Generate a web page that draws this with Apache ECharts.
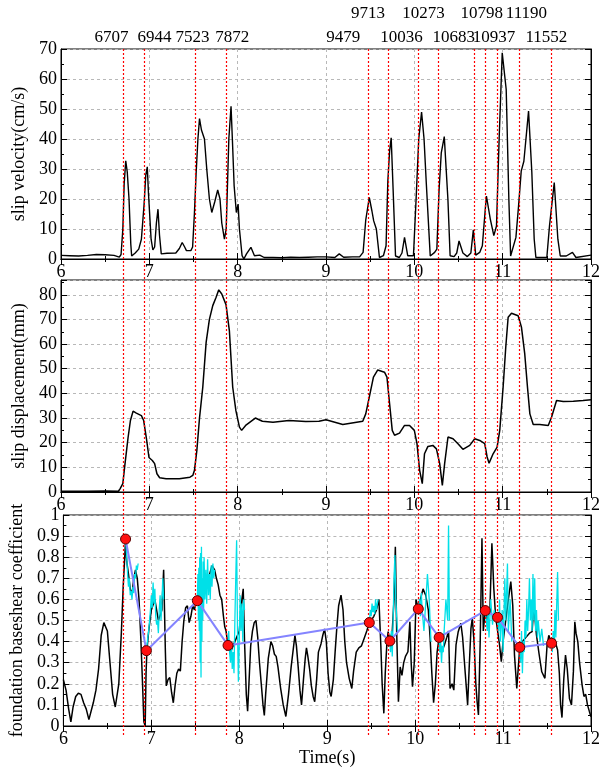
<!DOCTYPE html>
<html>
<head>
<meta charset="utf-8">
<script src="https://cdn.jsdelivr.net/npm/echarts@6/dist/echarts.min.js"></script>
<style>
  html, body { margin: 0; padding: 0; background: #fff; }
  #chart { width: 604px; height: 769px; }
</style>
</head>
<body>
<div id="chart"></div>
<script>
// Frame numbers of the sliding events (time in s = frame / 1000)
const eventFrames = [6707, 6944, 7523, 7872, 9479, 9713, 10036, 10273, 10683, 10798, 10937, 11190, 11552];

// Slip velocity (cm/s) vs time (s)
const slipVelocity = [
  [6.00,1.2],[6.10,1.1],[6.20,1.0],[6.30,1.2],[6.40,1.5],[6.50,1.4],[6.60,1.2],[6.66,0.6],[6.68,1.5],
  [6.70,10],[6.715,25],[6.733,32.7],[6.75,29],[6.77,20],[6.79,5],[6.80,1.0],[6.84,2.0],[6.88,3.3],
  [6.91,6.6],[6.94,18],[6.96,28],[6.977,30.7],[6.99,22],[7.02,6.6],[7.04,3],[7.06,4],[7.08,12],
  [7.098,16.6],[7.115,8],[7.135,1.7],[7.20,1.9],[7.30,2.0],[7.34,3.5],[7.372,5.5],[7.40,4],[7.42,2.8],
  [7.47,2.8],[7.49,4],[7.51,15],[7.53,28.8],[7.55,40],[7.568,46.8],[7.59,43],[7.624,40],[7.65,30],
  [7.68,20],[7.707,15.5],[7.74,19],[7.774,23],[7.80,20],[7.82,12],[7.85,6.6],[7.87,10],[7.90,40],
  [7.925,50.9],[7.94,40],[7.96,24.4],[7.985,15.5],[8.005,18.3],[8.02,10],[8.05,1.1],[8.07,0],[8.10,1.7],
  [8.15,3.9],[8.19,1.1],[8.25,1.3],[8.30,0.5],[8.40,0.5],[8.50,0.4],[8.60,0.6],[8.70,0.5],[8.80,0.6],
  [8.90,0.7],[9.00,0.7],[9.10,0.5],[9.15,1.7],[9.20,0.6],[9.30,0.7],[9.38,0.7],[9.42,2.2],[9.45,13],
  [9.49,20.5],[9.52,16],[9.54,12.7],[9.57,10],[9.605,0.5],[9.65,1.1],[9.68,4.4],[9.70,26],[9.72,36],
  [9.738,40.4],[9.76,23],[9.787,1],[9.83,0.5],[9.86,2],[9.889,7.2],[9.925,1.1],[9.99,1.1],[10.02,20],
  [10.05,40],[10.082,49],[10.11,40],[10.135,25.5],[10.18,1.0],[10.23,2.2],[10.255,3.3],[10.28,23],
  [10.305,35.4],[10.339,40.8],[10.38,20],[10.405,1.1],[10.45,0.8],[10.48,2],[10.506,6],[10.55,2],
  [10.60,0.8],[10.64,2],[10.668,9.7],[10.695,1.3],[10.74,2.2],[10.77,4.4],[10.80,15.5],[10.816,21],
  [10.86,13.3],[10.90,7.8],[10.93,11],[10.96,40],[10.995,68.7],[11.013,69.2],[11.04,56.5],[11.07,20],
  [11.09,1.0],[11.15,7.2],[11.18,17.7],[11.21,29.3],[11.24,32.6],[11.293,49.3],[11.33,29],[11.357,6.6],
  [11.376,0.5],[11.50,0.5],[11.53,11],[11.584,25.5],[11.625,6.6],[11.652,1.0],[11.72,1.0],[11.79,2.2],
  [11.83,0.5],[12.00,1.3]
];

// Slip displacement (mm) vs time (s)
const slipDisplacement = [
  [6.00,0.3],[6.30,0.3],[6.50,0.4],[6.65,0.3],[6.668,1.3],[6.70,3.4],[6.72,10],[6.759,22],[6.786,29],
  [6.816,32.8],[6.853,32],[6.91,31],[6.936,29],[6.966,22],[6.996,14],[7.034,12.8],[7.06,11.5],
  [7.086,7.4],[7.117,5.8],[7.19,5.4],[7.34,5.4],[7.46,6],[7.492,6.7],[7.511,8.8],[7.538,16.9],
  [7.568,30],[7.605,42.5],[7.643,60.7],[7.68,70],[7.718,75.6],[7.756,79],[7.786,82],[7.82,80.3],
  [7.868,76],[7.906,65.5],[7.944,42.5],[7.98,33],[8.02,26.3],[8.045,25],[8.09,27],[8.20,30],
  [8.28,28.7],[8.40,28.3],[8.58,29],[8.77,28.6],[8.92,28.7],[9.00,29.3],[9.19,27.4],[9.416,28.7],
  [9.45,31.7],[9.49,38.5],[9.537,46.6],[9.586,49.5],[9.662,48.6],[9.69,46.6],[9.72,35.8],[9.75,25],
  [9.776,23],[9.832,23.9],[9.889,27],[9.946,27],[10.00,25],[10.03,19.6],[10.06,8.8],[10.09,3.4],
  [10.115,15.5],[10.154,18.5],[10.21,18.9],[10.25,17.5],[10.287,11.5],[10.317,2.7],[10.343,11.5],
  [10.381,22.3],[10.438,21.6],[10.494,19.6],[10.55,17.3],[10.627,18.9],[10.684,21.6],[10.74,20.9],
  [10.797,19.6],[10.824,14.2],[10.846,11.7],[10.892,15.5],[10.937,18.2],[10.967,25],[11.005,42.5],
  [11.035,58.7],[11.062,70.9],[11.10,72.5],[11.175,71.5],[11.213,66.8],[11.25,56],[11.281,42.5],
  [11.308,31.7],[11.346,27.4],[11.42,27.4],[11.516,27],[11.554,30.4],[11.61,37.1],[11.686,36.7],
  [11.80,36.8],[11.91,37.1],[12.00,37.4]
];

// Foundation base-shear coefficient vs time (s)
const baseShearCoef = [
  [6.00,0.22],[6.03,0.17],[6.06,0.08],[6.085,0.02],[6.11,0.09],[6.14,0.14],[6.17,0.155],[6.20,0.15],
  [6.23,0.11],[6.26,0.08],[6.29,0.03],[6.31,0.025],[6.34,0.11],[6.37,0.17],[6.40,0.27],[6.43,0.43],
  [6.46,0.49],[6.48,0.495],[6.50,0.45],[6.53,0.30],[6.56,0.15],[6.59,0.09],[6.61,0.085],[6.63,0.20],
  [6.66,0.45],[6.68,0.66],[6.70,0.82],[6.707,0.886],[6.72,0.78],[6.74,0.72],[6.76,0.65],[6.78,0.62],
  [6.80,0.70],[6.82,0.74],[6.84,0.70],[6.86,0.60],[6.88,0.42],[6.90,0.20],[6.915,0.02],[6.93,0.0],
  [6.94,0.25],[6.95,0.36],[6.97,0.45],[7.00,0.55],[7.04,0.60],[7.08,0.50],[7.12,0.55],[7.14,0.74],
  [7.16,0.35],[7.17,0.19],[7.19,0.22],[7.21,0.23],[7.23,0.16],[7.25,0.11],[7.27,0.19],[7.29,0.25],
  [7.31,0.27],[7.33,0.26],[7.35,0.40],[7.37,0.50],[7.39,0.56],[7.41,0.57],[7.43,0.49],[7.45,0.52],
  [7.47,0.57],[7.49,0.55],[7.51,0.59],[7.523,0.594],[7.55,0.60],[7.60,0.65],[7.65,0.70],[7.69,0.76],
  [7.72,0.74],[7.74,0.70],[7.76,0.67],[7.78,0.62],[7.80,0.60],[7.82,0.52],[7.835,0.47],[7.85,0.45],
  [7.872,0.38],[7.90,0.35],[7.95,0.40],[8.00,0.45],[8.03,0.60],[8.045,0.65],[8.06,0.40],[8.08,0.15],
  [8.095,0.07],[8.11,0.20],[8.13,0.38],[8.15,0.45],[8.17,0.49],[8.19,0.50],[8.21,0.42],[8.23,0.30],
  [8.25,0.20],[8.27,0.10],[8.285,0.05],[8.30,0.15],[8.33,0.32],[8.36,0.40],[8.38,0.38],[8.40,0.34],
  [8.42,0.33],[8.44,0.28],[8.47,0.18],[8.50,0.10],[8.53,0.045],[8.56,0.15],[8.59,0.28],[8.61,0.35],
  [8.633,0.43],[8.65,0.38],[8.67,0.28],[8.69,0.17],[8.708,0.10],[8.73,0.22],[8.75,0.32],[8.764,0.37],
  [8.78,0.33],[8.80,0.27],[8.82,0.19],[8.84,0.14],[8.858,0.115],[8.88,0.22],[8.90,0.35],[8.93,0.39],
  [8.95,0.43],[8.97,0.46],[8.99,0.40],[9.01,0.25],[9.03,0.16],[9.045,0.14],[9.07,0.22],[9.09,0.35],
  [9.11,0.47],[9.13,0.57],[9.157,0.62],[9.18,0.55],[9.20,0.40],[9.22,0.30],[9.25,0.226],[9.28,0.178],
  [9.30,0.26],[9.33,0.35],[9.36,0.37],[9.39,0.38],[9.42,0.415],[9.45,0.45],[9.479,0.49],[9.50,0.50],
  [9.53,0.52],[9.56,0.55],[9.588,0.60],[9.61,0.38],[9.625,0.20],[9.644,0.06],[9.66,0.25],[9.68,0.40],
  [9.693,0.447],[9.713,0.403],[9.74,0.45],[9.76,0.60],[9.775,0.85],[9.79,0.45],[9.81,0.115],
  [9.83,0.28],[9.85,0.24],[9.87,0.30],[9.89,0.33],[9.918,0.352],[9.94,0.494],[9.955,0.30],[9.97,0.186],
  [9.99,0.30],[10.01,0.60],[10.036,0.555],[10.06,0.60],[10.09,0.65],[10.12,0.62],[10.15,0.55],
  [10.17,0.42],[10.19,0.25],[10.21,0.11],[10.23,0.20],[10.25,0.35],[10.273,0.42],[10.30,0.35],
  [10.33,0.38],[10.36,0.42],[10.38,0.45],[10.397,0.178],[10.42,0.20],[10.44,0.17],[10.465,0.384],
  [10.49,0.447],[10.52,0.487],[10.54,0.42],[10.57,0.25],[10.597,0.10],[10.615,0.28],[10.635,0.463],
  [10.65,0.51],[10.67,0.40],[10.69,0.20],[10.705,0.115],[10.72,0.052],[10.74,0.40],[10.76,0.89],
  [10.775,0.45],[10.798,0.547],[10.82,0.50],[10.85,0.55],[10.873,0.866],[10.895,0.65],[10.915,0.52],
  [10.937,0.515],[10.96,0.384],[10.98,0.305],[11.00,0.40],[11.03,0.50],[11.06,0.60],[11.088,0.684],
  [11.11,0.573],[11.13,0.336],[11.156,0.178],[11.19,0.373],[11.22,0.40],[11.26,0.42],[11.30,0.44],
  [11.33,0.447],[11.35,0.573],[11.38,0.43],[11.41,0.34],[11.44,0.257],[11.476,0.226],[11.50,0.38],
  [11.52,0.43],[11.552,0.392],[11.58,0.42],[11.62,0.36],[11.64,0.25],[11.654,0.10],[11.67,0.04],
  [11.69,0.22],[11.71,0.336],[11.73,0.27],[11.755,0.13],[11.778,0.10],[11.80,0.26],[11.816,0.494],
  [11.83,0.44],[11.85,0.40],[11.87,0.30],[11.899,0.194],[11.92,0.14],[11.94,0.15],[11.96,0.10],
  [11.982,0.068],[12.00,0.044]
];

// Coefficient while sliding, one block per sliding window
const slidingCoef = [
  [[6.707,0.886],[6.72,0.80],[6.73,0.72],[6.74,0.66],[6.75,0.70],[6.76,0.62],[6.77,0.64],[6.78,0.60],
   [6.79,0.66],[6.80,0.63],[6.81,0.72],[6.82,0.70],[6.83,0.76],[6.84,0.74],[6.85,0.77]],
  [[6.944,0.357],[6.96,0.42],[6.97,0.45],[6.98,0.50],[6.99,0.55],[7.00,0.62],[7.01,0.56],[7.02,0.68],
   [7.03,0.58],[7.04,0.65],[7.05,0.52],[7.06,0.48],[7.07,0.50],[7.08,0.44],[7.09,0.55],[7.10,0.62],
   [7.11,0.50],[7.12,0.58],[7.13,0.70],[7.14,0.60]],
  [[7.523,0.594],[7.53,0.72],[7.535,0.50],[7.54,0.75],[7.545,0.45],[7.55,0.80],[7.555,0.30],[7.56,0.82],
   [7.565,0.23],[7.57,0.85],[7.575,0.40],[7.58,0.70],[7.585,0.50],[7.59,0.78],[7.595,0.55],[7.60,0.80],
   [7.61,0.60],[7.62,0.74],[7.63,0.58],[7.64,0.79],[7.65,0.62],[7.66,0.72],[7.67,0.60],[7.68,0.76],
   [7.69,0.66],[7.70,0.77],[7.71,0.70],[7.72,0.74]],
  [[7.872,0.382],[7.88,0.45],[7.89,0.35],[7.90,0.30],[7.91,0.40],[7.92,0.27],[7.93,0.35],[7.94,0.25],
   [7.95,0.50],[7.96,0.70],[7.97,0.88],[7.98,0.45],[7.99,0.21],[8.00,0.40],[8.01,0.62],[8.02,0.45],
   [8.03,0.58],[8.04,0.40],[8.05,0.60],[8.06,0.55]],
  [[9.479,0.49],[9.49,0.55],[9.50,0.52],[9.51,0.58],[9.52,0.54],[9.53,0.57],[9.54,0.53],[9.55,0.60],
   [9.56,0.55],[9.57,0.58],[9.58,0.60]],
  [[9.713,0.403],[9.72,0.35],[9.73,0.45],[9.74,0.33],[9.75,0.50],[9.76,0.70],[9.77,0.81],[9.78,0.60],
   [9.79,0.52],[9.80,0.45]],
  [[10.036,0.555],[10.05,0.60],[10.06,0.52],[10.07,0.63],[10.08,0.55],[10.09,0.50],[10.10,0.45],
   [10.12,0.58],[10.14,0.72],[10.16,0.60],[10.18,0.40]],
  [[10.273,0.42],[10.28,0.35],[10.29,0.40],[10.30,0.30],[10.31,0.38],[10.32,0.35],[10.33,0.45],
   [10.35,0.60],[10.37,0.50],[10.38,0.95],[10.39,0.50]],
  [[10.798,0.547],[10.81,0.50],[10.82,0.45],[10.83,0.55],[10.84,0.42],[10.86,0.60],[10.88,0.48],
   [10.90,0.55],[10.92,0.50],[10.937,0.515]],
  [[10.937,0.515],[10.95,0.45],[10.96,0.60],[10.97,0.40],[10.99,0.55],[11.00,0.35],[11.02,0.70],
   [11.03,0.50],[11.05,0.77],[11.06,0.45],[11.08,0.60],[11.10,0.40]],
  [[11.19,0.373],[11.20,0.30],[11.21,0.45],[11.22,0.25],[11.23,0.40],[11.24,0.35],[11.25,0.50],
   [11.26,0.42],[11.27,0.60],[11.28,0.45],[11.29,0.55],[11.30,0.70],[11.31,0.50],[11.32,0.60],
   [11.33,0.45],[11.34,0.72],[11.35,0.50],[11.36,0.70],[11.37,0.45],[11.38,0.55],[11.39,0.42],
   [11.40,0.50],[11.42,0.40],[11.44,0.46],[11.46,0.38]],
  [[11.552,0.392],[11.56,0.35],[11.57,0.45],[11.58,0.38],[11.59,0.55],[11.60,0.42],[11.62,0.73],
   [11.63,0.50]]
];

// Coefficient picked at each event frame (no pick at 10683)
const markerFrames = [6707, 6944, 7523, 7872, 9479, 9713, 10036, 10273, 10798, 10937, 11190, 11552];
const markerCoef = [0.886, 0.357, 0.594, 0.382, 0.49, 0.403, 0.555, 0.42, 0.547, 0.515, 0.373, 0.392];

const FONT = 'Liberation Serif';
const chart = echarts.init(document.getElementById('chart'), null, { renderer: 'canvas' });

// plot boxes (px)
const boxes = [
  { top: 49, height: 210 },
  { top: 280, height: 212 },
  { top: 515, height: 211 }
];
const LEFT = 61, RIGHT = 13;
const yRanges = [
  { min: 0, max: 70, interval: 10, name: 'slip velocity(cm/s)' },
  { min: 0, max: 86, interval: 10, name: 'slip displacement(mm)' },
  { min: 0, max: 1, interval: 0.1, name: 'foundation baseshear coefficient' }
];

const grids = [], xAxes = [], yAxes = [];
const tickStyle = { show: true, inside: true, length: 6, lineStyle: { color: '#000', width: 1 } };
const minorStyle = { show: true, splitNumber: 2, length: 3, lineStyle: { color: '#000', width: 1 } };
const gridLine = { show: true, lineStyle: { color: '#b8b8b8', type: [3, 3], width: 1 } };

boxes.forEach((b, i) => {
  grids.push({ left: LEFT, right: RIGHT, top: b.top, height: b.height, show: true,
               borderColor: '#000', borderWidth: 1, backgroundColor: 'transparent' });
  // bottom x axis with labels
  xAxes.push({
    type: 'value', gridIndex: i, min: 6, max: 12, interval: 1, position: 'bottom',
    axisLine: { show: true, lineStyle: { color: '#000' } },
    axisTick: tickStyle, minorTick: minorStyle, splitLine: gridLine,
    axisLabel: { color: '#000', fontFamily: FONT, fontSize: 18, margin: 4 },
    name: i === 2 ? 'Time(s)' : '', nameLocation: 'middle', nameGap: 22,
    nameTextStyle: { color: '#000', fontFamily: FONT, fontSize: 18 }
  });
  // top mirror
  xAxes.push({
    type: 'value', gridIndex: i, min: 6, max: 12, interval: 1, position: 'top',
    axisLine: { show: true, lineStyle: { color: '#000' } },
    axisTick: tickStyle, minorTick: minorStyle, splitLine: { show: false },
    axisLabel: { show: false }
  });
  const r = yRanges[i];
  yAxes.push({
    type: 'value', gridIndex: i, min: r.min, max: r.max, interval: r.interval, position: 'left',
    axisLine: { show: true, lineStyle: { color: '#000' } },
    axisTick: tickStyle, minorTick: minorStyle, splitLine: gridLine,
    axisLabel: { color: '#000', fontFamily: FONT, fontSize: 18, margin: 4, showMaxLabel: i !== 1 },
    name: r.name, nameLocation: 'middle', nameGap: 32, nameRotate: 90,
    nameTextStyle: { color: '#000', fontFamily: FONT, fontSize: 18 }
  });
  yAxes.push({
    type: 'value', gridIndex: i, min: r.min, max: r.max, interval: r.interval, position: 'right',
    axisLine: { show: true, lineStyle: { color: '#000' } },
    axisTick: tickStyle, minorTick: minorStyle, splitLine: { show: false },
    axisLabel: { show: false }
  });
});

// overlay grid for the event markers that run through all three panels
grids.push({ left: LEFT, right: RIGHT, top: 49, bottom: 34 });
xAxes.push({ type: 'value', gridIndex: 3, min: 6, max: 12, show: false });
yAxes.push({ type: 'value', gridIndex: 3, min: 0, max: 1, show: false });

const series = [];
series.push({
  type: 'line', xAxisIndex: 6, yAxisIndex: 6, data: [], z: 1, silent: true,
  markLine: {
    symbol: 'none', silent: true, animation: false,
    label: { show: false },
    lineStyle: { color: '#ff0000', type: [2, 2], width: 1.2 },
    data: eventFrames.map(f => ({ xAxis: f / 1000 }))
  }
});
series.push({
  type: 'line', xAxisIndex: 0, yAxisIndex: 0, data: slipVelocity, showSymbol: false,
  lineStyle: { color: '#000', width: 1.4 }, z: 3, animation: false
});
series.push({
  type: 'line', xAxisIndex: 2, yAxisIndex: 2, data: slipDisplacement, showSymbol: false,
  lineStyle: { color: '#000', width: 1.5 }, z: 3, animation: false
});
series.push({
  type: 'line', xAxisIndex: 4, yAxisIndex: 4, data: baseShearCoef, showSymbol: false,
  lineStyle: { color: '#000', width: 1.5 }, z: 3, animation: false
});
slidingCoef.forEach(seg => {
  series.push({
    type: 'line', xAxisIndex: 4, yAxisIndex: 4, data: seg, showSymbol: false,
    lineStyle: { color: '#00e0e8', width: 1.3 }, z: 4, animation: false
  });
});
series.push({
  type: 'line', xAxisIndex: 4, yAxisIndex: 4,
  data: markerFrames.map((f, k) => [f / 1000, markerCoef[k]]),
  symbol: 'circle', symbolSize: 10, showSymbol: true,
  itemStyle: { color: '#ff1010', borderColor: '#5a0000', borderWidth: 1 },
  lineStyle: { color: '#8484ff', width: 2 }, z: 5, animation: false
});

chart.setOption({
  animation: false,
  backgroundColor: '#fff',
  grid: grids, xAxis: xAxes, yAxis: yAxes, series: series
});

// Frame labels above the top panel, in two staggered rows
const upperRow = new Set([9713, 10273, 10798, 11190]);
const labelShift = [-12, 10, -3, 6, -25, -21, -16, -15, -21, -3, -3, 7, -5];
const texts = eventFrames.map((f, k) => {
  const px = chart.convertToPixel({ xAxisIndex: 6 }, f / 1000);
  return {
    type: 'text', x: px + labelShift[k], y: upperRow.has(f) ? 14 : 38,
    style: { text: String(f), fontFamily: FONT, fontSize: 17, fill: '#000',
             align: 'center', verticalAlign: 'middle' }
  };
});
chart.setOption({ graphic: texts });
</script>
</body>
</html>
